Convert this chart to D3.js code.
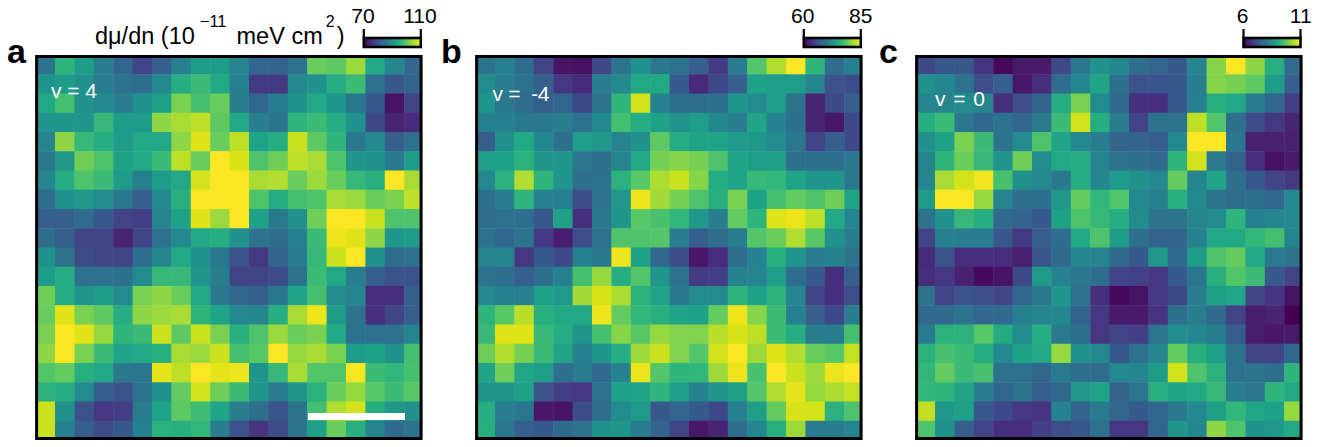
<!DOCTYPE html>
<html>
<head>
<meta charset="utf-8">
<script src="https://cdn.jsdelivr.net/npm/d3@7"></script>
<style>
  html, body { margin: 0; padding: 0; background: #fff; }
  text { font-family: "Liberation Sans", Arial, sans-serif; }
</style>
</head>
<body>
<div id="plot"></div>
<script>
// dmu/dn per cell, top row first
const valuesA = [
  [85.2,96,92,86.8,83.2,78,82,87.2,92,92,88,83.2,82.8,84.8,100.8,100,104,94,88,83.2],
  [90.8,92,90,86.8,84.8,84,88.8,94.8,97.2,94,87.2,76.8,76.8,88.8,90,94.8,97.2,84.8,80.8,82.8],
  [94,98,90,88.8,86.8,90,92.8,102,98,100.8,86.8,83.2,86.8,90,94,90.8,86,80.8,72,78],
  [90.8,90.8,90.8,96.8,92,92,103.2,104.8,106,100,94,86.8,85.2,96,97.2,94.8,90,78.8,74,74.8],
  [88,103.2,96.8,94.8,92,94,94,103.2,108,100.8,106,93.2,94.8,106.8,100,96,86,88.8,82,84.8],
  [86,91.2,101.2,98.8,92.8,94,97.2,106,100.8,110,107.6,98.8,101.2,106,104.8,98.8,90.8,90,86,92],
  [88,94.8,98.8,97.2,92,87.2,92,94,107.2,110,110,104.8,105.2,100.8,104,100.8,96.8,95.2,110,104.8],
  [84,90,91.2,89.2,86,82,88.8,95.2,110,110,110,98.8,94.8,98,98.8,104.8,104,100.8,102,106],
  [82,82,84,81.2,78,77.2,88,92.8,108,104,110,92.8,86,90,101.2,110,110,106.8,98.8,98.8],
  [84,82,78,78,74,78,84.8,88.8,94,94.8,90,85.2,84,87.2,97.2,108.8,108,103.2,90.8,92],
  [90,85.2,79.2,78,78,84,88,94,90,86,80,76.8,82.8,86.8,96.8,106.8,110,90,84,84.8],
  [92,94.8,84.8,84.8,84.4,89.2,96.8,96.8,90.8,86.8,78,78,79.2,85.2,97.2,94,86.8,82,80,80],
  [101.2,94.8,90.8,92,89.2,102,103.2,100.8,94,86,83.2,82,86,93.2,98,89.2,88,75.2,75.2,82],
  [100.8,108,102,100,94.8,103.2,104,104.8,96,93.2,88.8,88,94.8,104.8,108.8,92,85.2,75.6,78,82],
  [102,110,108,103.6,96,97.2,106.8,100,106.8,102,95.2,98.8,104,100.8,102,94,84.8,84.8,84.8,88],
  [103.2,110,102,97.2,93.2,94,95.2,104.8,104,106.8,98,99.6,110,103.6,104.8,102,92,92.8,90,98],
  [99.2,100.4,95.2,94,86,85.6,108.4,106,110,108.4,108.8,90.8,96.8,104.8,99.2,99.2,109.6,97.2,96.4,98.4],
  [95.6,94.8,89.2,82,80,85.2,90,100.4,107.2,101.2,97.2,90.8,86.4,90.8,95.6,100.8,103.6,99.6,97.2,99.6],
  [106.8,90,80,76.4,77.2,86.8,93.2,100,97.6,93.2,86.8,84.4,80,85.2,98,105.2,107.2,94.8,91.2,90],
  [106.8,87.2,82,79.2,80.8,87.2,95.6,95.2,96.4,86.8,80,76,79.2,85.2,92.4,100.8,95.2,88,83.6,85.2]
];

const valuesB = [
  [69.3,70.8,68.8,65,61.3,61,65.5,69.5,72.5,70,69.3,67.5,64.3,70.5,78.3,82,85,76.3,68.8,70.8],
  [72,70.5,69.3,67.5,64,63,70.5,71.8,75,75,67,63,65.5,67.5,74.3,73.8,73.8,71.3,66.3,65.8],
  [73,70,68.8,67.5,68.3,65.5,69.5,76.3,83.3,71,69,68.8,69,73,72,73.8,69.5,62.5,65.5,67.5],
  [70.8,70.8,70,70,70.5,69.3,71.8,77.5,75.5,74.3,72.8,73.8,71.5,70.5,74.5,71,69,62.5,61.5,65.5],
  [67.5,72.5,75,71.5,69,73.8,73.3,71.3,72.5,78.8,75.5,74.5,74.5,73.5,73.3,72,70,65,67.5,65.5],
  [73.8,74.3,76,73,73,69.8,69,71.3,75,79.8,80.5,79.8,78,74.5,73.8,74,69,69,68.8,70],
  [71.8,76,82,76.3,73,69,69.3,76,78.5,81.8,83,80.5,75.5,74.5,76.8,76.5,74.5,73,73,70],
  [69,70.5,76.3,70.8,70.8,65.8,69.3,73.3,84.3,81.5,79.8,78,75.8,80,74.3,77.5,79,78,79.5,74.5],
  [68.8,69.3,69,66.8,74.3,63.5,70,73,78.5,77.8,76.5,73.3,70.5,79,76.3,83.8,84.3,82.5,75,71.3],
  [69.3,68.3,69.5,64.3,62,66,69.3,78,78,78.3,70.5,67.5,68.8,70.5,78.3,79.3,82,78.5,72.5,70.5],
  [71.3,71.3,64,67,65.5,70.8,70,84.3,74.3,68.3,65.8,61.5,63.3,68.8,71,75.8,73,70.5,71,69.5],
  [69.5,68.8,67.5,69,70.8,77.5,81,75.5,78.3,73,69.3,64.3,64.5,71,71.3,73.8,68.8,67,63.5,67.5],
  [71.8,70.8,70.8,74.3,73.5,81.5,83.5,81.8,76,74.5,70,72,72,76.3,74.3,76,71.3,65,63.5,66],
  [76.3,78.5,82.3,75.8,75,75,84.3,79,76.5,75.8,74.5,74.3,79,84.3,80.5,77,70.8,67.5,65.5,70.5],
  [76.8,83.8,83.8,76.8,75.5,73,77.5,80.5,78.5,81,80.3,80.3,82.3,83.5,82.5,77,75.5,70.5,70.5,77.5],
  [79.5,82,79.8,77,74.5,70.8,73,75.5,81.3,83,80.3,78.3,83.3,85,81.3,83.8,82,79.3,78.5,82.8],
  [74.5,79.5,74.8,74,69,70.5,68.5,71,84.3,78.3,76.3,76.5,81.3,84.3,77.8,85,83,81.3,84.3,85],
  [73,73,74,66.3,64.5,64,69.3,74.3,74.5,76.3,73.8,71,73,74,78.3,82,84,81,81.8,82.8],
  [75.5,70.5,69.8,61.5,61.3,65.8,68.8,72,73.5,67,68.3,67,65.5,70.8,74,79,83.5,83.3,76,78],
  [75.8,69.8,67.5,67,68.5,69.5,72.5,73,70.3,68,65,61.5,62.5,68.8,71.5,75.8,81.3,70.3,70.3,71.3]
];

const valuesC = [
  [7.1,7.35,7.35,6.75,6.1,6.35,6.35,7.1,8,8.5,8.3,7.8,7.65,7.4,8.25,10.1,11,10.15,9.15,7.75],
  [8.5,8.3,7.9,7.2,7.5,6.3,6.65,7.75,8.3,8.9,7.8,7.25,7.3,7.4,8.1,10.1,9.95,9.75,8.75,7.5],
  [8.25,8.25,8.4,8.25,6.7,7.2,7.6,9.1,10,8.4,7.7,6.7,6.7,7.4,8.15,9.15,9,8.1,7.65,6.9],
  [9.1,9.4,8,7.65,7.9,7.65,8.05,9.4,10.65,9.1,8.1,7,7.9,7.9,10.5,9.65,7.8,7.15,6.8,6.5],
  [8.5,8.85,10,9.4,7.9,8.4,9.6,8.9,8.35,8.1,7.6,7.6,7.45,8.35,11,11,8,6.45,6.45,6.45],
  [8.25,9.25,9.85,9.35,8.6,9.9,8.4,9,9.1,8.25,7.9,7.8,7.7,9.25,10.65,8.05,7.55,6.7,6.2,6.35],
  [8.25,10.35,10.65,10.9,9.55,8.5,8.35,8,9.1,8.3,8.7,8.5,8.35,9.8,8.25,8.9,7.8,7.35,7,6.85],
  [8.75,11,11,10.2,8.25,7.75,7.8,8.65,9.8,9.3,9.65,8.35,8.15,9.15,8.35,7.9,7.75,7.8,7.65,8.35],
  [7.9,8.5,9.35,9.1,7.7,7.6,7.4,8.85,9.6,9.35,9.1,8.4,7.9,7.9,8.25,8.4,9.25,8.15,8.3,8.35],
  [7,8.2,8.1,8.1,7.35,6.85,7.5,7.75,9,9.6,8.75,7.8,7.55,7.6,8.15,9,9,9.3,9.5,8.25],
  [6.6,7.25,6.65,6.65,6.65,6.45,7.3,7.7,8.25,8.25,7.7,7.4,8.65,7.7,8.75,9.6,9.8,9,8.05,7.9],
  [6.65,6.8,6.45,6.15,6.25,7.1,8.7,8.2,8,7.75,7,6.95,6.8,7.4,7.95,9.15,9.65,9.4,7.4,7],
  [7.9,7,7.25,7.2,7.05,7.65,8,8.6,7.85,6.7,6.15,6.25,6.8,7.1,8.1,8.8,8.95,7,6.75,6.25],
  [7.7,7.7,7.9,7.65,7.7,8.15,8.25,8.3,7.6,6.8,6.35,6.35,6.75,7.8,8.1,7.7,7,6.4,6.5,6],
  [8.05,9.2,9.2,9.7,9.05,8.4,9.1,8.05,7.8,6.8,7,6.9,7.95,8.45,8.3,8.1,7.45,6.4,6.3,6.35],
  [9.2,9.55,9.4,9.1,8.35,8.85,9,10.2,8.5,8.35,7.4,7.85,8.25,9.8,9.15,8.8,7.9,7,7,7.65],
  [9.3,9.8,9.4,9.55,7.85,7.85,7.65,8.05,7.75,7.75,8.35,8.3,8.75,10.65,9.6,9.2,7.85,7.9,7.75,9.25],
  [9.3,9.25,8.9,8.1,7.65,7.9,7.5,7.65,8.65,8.9,7.55,7.95,9.15,8.9,9,9.35,8.1,7.95,9.25,9],
  [10.55,8.65,8.8,7.35,7.1,6.8,6.75,8.2,7.6,8.05,7.65,7.4,7.65,8,8.35,8.8,9.3,8.95,8.85,10.2],
  [9.6,8.5,7.5,7,6.65,6.7,6.9,7.2,7.35,7.85,6.8,6.8,7.65,8.6,8.3,10.15,9.6,8.55,8.65,9]
];

const columns = d3.range(20);
const rows = d3.range(20);
const rangeA = [70, 110];
const rangeB = [60, 85];
const rangeC = [6, 11];

const width = 1335;
const height = 447;
const mapTop = 55;
const mapBottom = 440;
const mapWidth = 388;

const svg = d3.select("#plot")
  .append("svg")
  .attr("width", width)
  .attr("height", height)
  .style("display", "block");

const defs = svg.append("defs");

function drawPanel(id, left, values, range, letter, letterX, letterY, note, noteX, noteY, noteLen, barLeft, tickLabels, tickX) {
  const x = d3.scaleBand().domain(columns).range([left, left + mapWidth]);
  const y = d3.scaleBand().domain(rows).range([mapTop, mapBottom]);
  const color = d3.scaleSequential(d3.interpolateViridis).domain(range);

  const frameL = left + 1;
  const frameR = left + 385.5;
  const frameT = mapTop + 1.5;
  const frameB = mapBottom - 1.5;

  defs.append("clipPath").attr("id", `clip-${id}`)
    .append("rect")
    .attr("x", frameL).attr("y", frameT)
    .attr("width", frameR - frameL).attr("height", frameB - frameT);

  const g = svg.append("g");

  g.append("g")
    .attr("clip-path", `url(#clip-${id})`)
    .selectAll("g")
    .data(values)
    .join("g")
    .selectAll("rect")
    .data((row, i) => row.map((v, j) => ({ v, i, j })))
    .join("rect")
    .attr("x", d => x(d.j))
    .attr("y", d => y(d.i))
    .attr("width", x.bandwidth() + 0.5)
    .attr("height", y.bandwidth() + 0.5)
    .attr("fill", d => color(d.v));

  g.append("rect")
    .attr("x", frameL).attr("y", frameT)
    .attr("width", frameR - frameL).attr("height", frameB - frameT)
    .attr("fill", "none")
    .attr("stroke", "#000")
    .attr("stroke-width", 3);

  g.append("text")
    .attr("x", letterX).attr("y", letterY)
    .attr("font-size", 34).attr("font-weight", "bold")
    .text(letter);

  g.append("text")
    .attr("x", noteX).attr("y", noteY)
    .attr("font-size", 21).attr("fill", "#fff")
    .attr("textLength", noteLen)
    .style("white-space", "pre")
    .text(note);

  // colour bar
  const gradId = `grad-${id}`;
  const grad = defs.append("linearGradient").attr("id", gradId);
  d3.range(0, 1.01, 0.1).forEach(t => {
    grad.append("stop")
      .attr("offset", `${t * 100}%`)
      .attr("stop-color", d3.interpolateViridis(t));
  });

  const bar = d3.scaleLinear().domain(range).range([barLeft + 1.5, barLeft + 58.5]);

  g.append("rect")
    .attr("x", bar(range[0])).attr("y", 38)
    .attr("width", bar(range[1]) - bar(range[0])).attr("height", 9)
    .attr("fill", `url(#${gradId})`)
    .attr("stroke", "#000")
    .attr("stroke-width", 2.6);

  range.forEach((v, i) => {
    g.append("line")
      .attr("x1", bar(v)).attr("x2", bar(v))
      .attr("y1", 29).attr("y2", 38)
      .attr("stroke", "#000")
      .attr("stroke-width", 2.2);
    g.append("text")
      .attr("x", tickX[i]).attr("y", 22.5)
      .attr("text-anchor", "middle")
      .attr("font-size", 21)
      .text(tickLabels[i]);
  });
}

drawPanel("a", 35.6, valuesA, rangeA, "a", 7, 63, "v = 4", 51, 98, 46, 362.3, ["70", "110"], [363, 420]);
drawPanel("b", 475.6, valuesB, rangeB, "b", 441, 63, "v =  -4", 492.5, 100.5, 57, 802.3, ["60", "85"], [802.7, 860.7]);
drawPanel("c", 915.6, valuesC, rangeC, "c", 879, 63, "v = 0", 935, 105.5, 50, 1242, ["6", "11"], [1242.7, 1300.7]);

// colour bar title of panel a
const title = svg.append("text").attr("y", 44.3).attr("font-size", 23.5).attr("x", 95);
title.append("tspan").text("dμ/dn (10");
title.append("tspan").attr("dy", -17.6).attr("dx", 5).attr("font-size", 16.5).text("−11");
title.append("tspan").attr("dy", 17.6).attr("dx", 10).text("meV cm");
title.append("tspan").attr("dy", -17.6).attr("dx", 3).attr("font-size", 16).text("2");
title.append("tspan").attr("dy", 17.6).attr("dx", 2).text(")");

// scale bar in panel a
svg.append("rect")
  .attr("x", 308).attr("y", 413)
  .attr("width", 97).attr("height", 7)
  .attr("fill", "#fff");
</script>
</body>
</html>
